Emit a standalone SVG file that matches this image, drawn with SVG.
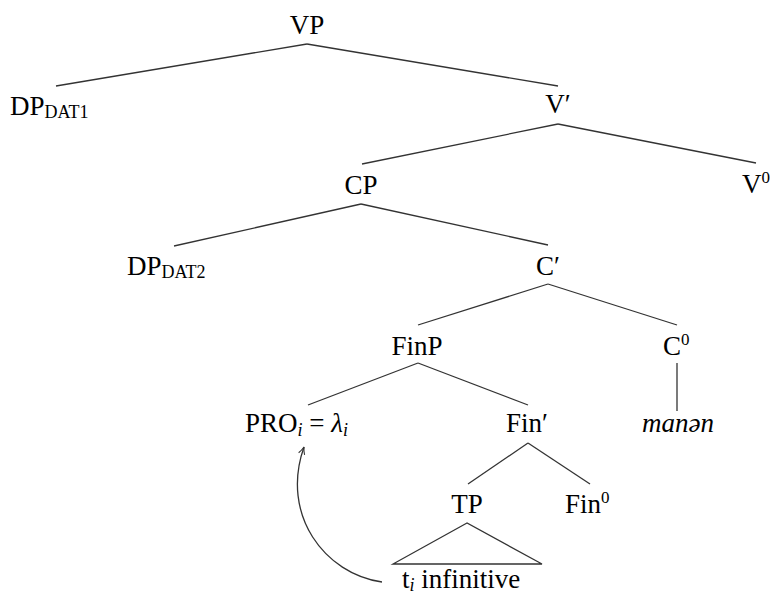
<svg xmlns="http://www.w3.org/2000/svg" width="771" height="595" viewBox="0 0 771 595">
<defs>
<style>
text,tspan{font-family:"Liberation Serif","DejaVu Serif",serif}
text{font-size:27px;fill:#000}
.m{text-anchor:middle}
.sub{font-size:18px}
.sup{font-size:17px}
.it{font-style:italic}
line,polyline,path{stroke:#333;stroke-width:1.3;fill:none}
</style>
<marker id="ah" viewBox="0 0 10 10" refX="9" refY="5" markerWidth="9" markerHeight="9" orient="auto" markerUnits="userSpaceOnUse">
<path d="M1 1.5 Q5 4 9 5 Q5 6 1 8.5" style="stroke:#333;stroke-width:1.2;fill:none"/>
</marker>
</defs>
<rect width="771" height="595" fill="#fff"/>
<g id="connectors">
<line x1="307" y1="44" x2="56" y2="86"/>
<line x1="307" y1="44" x2="558" y2="86"/>
<line x1="558" y1="124" x2="362" y2="164"/>
<line x1="558" y1="124" x2="756" y2="163"/>
<line x1="361" y1="204" x2="174" y2="246"/>
<line x1="361" y1="204" x2="548" y2="245"/>
<line x1="548" y1="284" x2="418" y2="325"/>
<line x1="548" y1="284" x2="677" y2="325"/>
<line x1="418" y1="363" x2="308" y2="405"/>
<line x1="418" y1="363" x2="528" y2="405"/>
<line x1="677" y1="363" x2="677" y2="411"/>
<line x1="528" y1="443" x2="468" y2="484"/>
<line x1="528" y1="443" x2="590" y2="484"/>
<polygon points="467,523 393,564 542,564" style="stroke:#333;stroke-width:1.3;fill:none"/>
<path d="M382 582 C325 574 280 515 304 447" marker-end="url(#ah)"/>
</g>
<g id="VP"><text class="m" x="307" y="34">VP</text></g>
<g id="DP1"><text x="10" y="115">DP<tspan class="sub" dy="3">DAT1</tspan></text></g>
<g id="Vbar"><text class="m" x="558" y="113">V′</text></g>
<g id="CP"><text class="m" x="361" y="194">CP</text></g>
<g id="V0"><text x="742" y="193">V<tspan class="sup" dy="-10">0</tspan></text></g>
<g id="DP2"><text x="127" y="275">DP<tspan class="sub" dy="3">DAT2</tspan></text></g>
<g id="Cbar"><text class="m" x="548" y="275">C′</text></g>
<g id="FinP"><text class="m" x="417" y="355">FinP</text></g>
<g id="C0"><text x="663" y="355">C<tspan class="sup" dy="-10">0</tspan></text></g>
<g id="PRO"><text x="245" y="432">PRO<tspan class="sub it" dy="4">i</tspan><tspan dy="-4"> = </tspan><tspan class="it">λ</tspan><tspan class="sub it" dy="4">i</tspan></text></g>
<g id="Finbar"><text class="m" x="527" y="432">Fin′</text></g>
<g id="manen"><text class="m it" x="678" y="432">manən</text></g>
<g id="TP"><text class="m" x="467" y="513">TP</text></g>
<g id="Fin0"><text x="565" y="513">Fin<tspan class="sup" dy="-10">0</tspan></text></g>
<g id="ti"><text x="402" y="588">t<tspan class="sub it" dy="3">i</tspan><tspan dy="-3"> infinitive</tspan></text></g>
</svg>
